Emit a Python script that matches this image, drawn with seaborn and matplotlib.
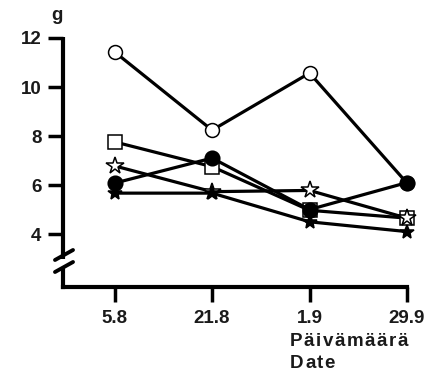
import matplotlib
matplotlib.use("Agg")
import matplotlib.pyplot as plt
from matplotlib.lines import Line2D
import seaborn as sns
import pandas as pd

sns.set_theme(style="white")
plt.rcParams['font.family'] = ['Liberation Sans', 'DejaVu Sans']

dates = ["5.8", "21.8", "1.9", "29.9"]
open_circle = [11.43, 8.24, 10.57, 6.08]
filled_circle = [6.08, 7.10, 5.00, 6.10]
open_square = [7.76, 6.75, 4.97, 4.65]
open_star = [6.78, 5.73, 5.78, 4.65]
filled_star = [5.67, 5.67, 4.50, 4.10]
yticks = [4, 6, 8, 10, 12]

series = [
    ("open_circle", open_circle, "o", "white", 10),
    ("open_square", open_square, "s", "white", 9.5),
    ("open_star", open_star, "*", "white", 13),
    ("filled_star", filled_star, "*", "black", 10),
    ("filled_circle", filled_circle, "o", "black", 10.5),
]

FS = 13.5
TXT = "#1a1a1a"

fig = plt.figure(figsize=(4.3, 3.75), dpi=100)
ax = fig.add_axes([63/430, 1-287/375, (407-63)/430, (287-38)/375])

pos = list(range(len(dates)))
for name, vals, m, fc, ms in series:
    df = pd.DataFrame({"x": pos, "y": vals})
    sns.lineplot(data=df, x="x", y="y", ax=ax, color="black", linewidth=2.3,
                 marker=m, markersize=ms, markerfacecolor=fc,
                 markeredgecolor="black", markeredgewidth=1.1, clip_on=False)

ax.set_xlim(-0.53, 3)
ax.set_ylim(1.84, 12)
ax.set_xticks(pos)
ax.set_xticklabels(dates)
ax.set_yticks(yticks)
ax.set_yticklabels([str(t) for t in yticks])
ax.set_xlabel("")
ax.set_ylabel("")
for s in ["top", "right", "left"]:
    ax.spines[s].set_visible(False)
ax.spines["bottom"].set_linewidth(3)
ax.spines["bottom"].set_color("black")
ax.tick_params(axis="both", which="both", direction="out", length=10.5, width=2.5,
               color="black", labelsize=FS, pad=5, bottom=True, left=True)
ax.tick_params(axis="x", pad=6)
for lab in ax.get_xticklabels() + ax.get_yticklabels():
    lab.set_fontweight("bold")
    lab.set_color(TXT)

# left spine with a break
tr = ax.get_yaxis_transform()
ax.add_line(Line2D([0, 0], [12.05, 3.0], transform=tr, color="black", lw=3, clip_on=False, solid_capstyle="butt"))
ax.add_line(Line2D([0, 0], [2.55, 1.84], transform=tr, color="black", lw=3, clip_on=False, solid_capstyle="projecting"))
for y0 in (260, 272):
    fig.add_artist(Line2D([55/430, 73/430], [1-y0/375, 1-(y0-10)/375],
                          transform=fig.transFigure, color="black", lw=2.8))

fig.text(57/430, 1-16/375, "g", ha="center", va="center", fontsize=FS,
         fontweight="bold", color=TXT)

def tracked(fig, x, y, s, spacing):
    r = fig.canvas.get_renderer()
    cur = x
    for ch in s:
        t = fig.text(cur/430, 1-y/375, ch, ha="left", va="center", fontsize=FS,
                     fontweight="bold", color=TXT)
        w = t.get_window_extent(renderer=r).width
        cur += w + spacing

tracked(fig, 290, 342, "Päivämäärä", 1.5)
tracked(fig, 290, 364, "Date", 1.5)

fig.savefig("out.png", dpi=100)
